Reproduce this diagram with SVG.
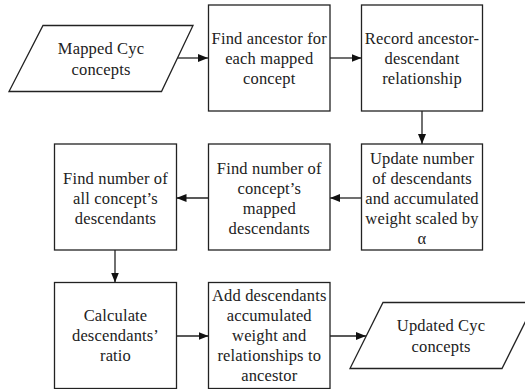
<svg xmlns="http://www.w3.org/2000/svg" width="525" height="389" viewBox="0 0 525 389">
<defs>
<style>
.n{fill:#fff;stroke:#222;stroke-width:1.3}
.t{font-family:"Liberation Serif","Times New Roman",serif;font-size:16.5px;letter-spacing:0.15px;fill:#222;text-anchor:middle}
.c{stroke:#222;stroke-width:1.3;fill:none}
</style>
<marker id="ah" markerWidth="10" markerHeight="8" refX="10" refY="4" orient="auto" markerUnits="userSpaceOnUse">
<path d="M0,0 L10,4 L0,8 Z" fill="#111"/>
</marker>
</defs>
<rect width="525" height="389" fill="#fff"/>
<g id="connectors">
<line class="c" x1="177.5" y1="58" x2="208" y2="58" marker-end="url(#ah)"/>
<line class="c" x1="330" y1="58" x2="361.5" y2="58" marker-end="url(#ah)"/>
<line class="c" x1="422" y1="111" x2="422" y2="144" marker-end="url(#ah)"/>
<line class="c" x1="361.5" y1="198" x2="330" y2="198" marker-end="url(#ah)"/>
<line class="c" x1="208.5" y1="198" x2="176.5" y2="198" marker-end="url(#ah)"/>
<line class="c" x1="115" y1="250" x2="115" y2="282.5" marker-end="url(#ah)"/>
<line class="c" x1="176.5" y1="336" x2="208.5" y2="336" marker-end="url(#ah)"/>
<line class="c" x1="330" y1="336" x2="366" y2="336" marker-end="url(#ah)"/>
</g>
<g id="n1">
<polygon class="n" points="43,25.5 193,25.5 161.5,91.5 9,91.5"/>
<text class="t" x="101" y="53.5">Mapped Cyc</text>
<text class="t" x="101" y="74.5">concepts</text>
</g>
<g id="n2">
<rect class="n" x="208.5" y="5" width="121.5" height="106"/>
<text class="t" x="269.25" y="43.5">Find ancestor for</text>
<text class="t" x="269.25" y="63.5">each mapped</text>
<text class="t" x="269.25" y="83.5">concept</text>
</g>
<g id="n3">
<rect class="n" x="361.5" y="5" width="121" height="106"/>
<text class="t" x="422" y="43.5">Record ancestor-</text>
<text class="t" x="422" y="63.5">descendant</text>
<text class="t" x="422" y="83.5">relationship</text>
</g>
<g id="n4">
<rect class="n" x="361.5" y="144" width="121" height="106"/>
<text class="t" x="422" y="163.5">Update number</text>
<text class="t" x="422" y="183.5">of descendants</text>
<text class="t" x="422" y="203.5">and accumulated</text>
<text class="t" x="422" y="223.5">weight scaled by</text>
<text class="t" x="422" y="243.5">α</text>
</g>
<g id="n5">
<rect class="n" x="208.5" y="144" width="121.5" height="106"/>
<text class="t" x="269.25" y="173.5">Find number of</text>
<text class="t" x="269.25" y="193.5">concept’s</text>
<text class="t" x="269.25" y="213.5">mapped</text>
<text class="t" x="269.25" y="233.5">descendants</text>
</g>
<g id="n6">
<rect class="n" x="54.5" y="144" width="122" height="106"/>
<text class="t" x="115.5" y="183.5">Find number of</text>
<text class="t" x="115.5" y="203.5">all concept’s</text>
<text class="t" x="115.5" y="223.5">descendants</text>
</g>
<g id="n7">
<rect class="n" x="54.5" y="282.5" width="122" height="106"/>
<text class="t" x="115.5" y="321">Calculate</text>
<text class="t" x="115.5" y="341">descendants’</text>
<text class="t" x="115.5" y="361">ratio</text>
</g>
<g id="n8">
<rect class="n" x="208.5" y="282.5" width="121.5" height="106"/>
<text class="t" x="269.25" y="301">Add descendants</text>
<text class="t" x="269.25" y="321">accumulated</text>
<text class="t" x="269.25" y="341">weight and</text>
<text class="t" x="269.25" y="361">relationships to</text>
<text class="t" x="269.25" y="381">ancestor</text>
</g>
<g id="n9">
<polygon class="n" points="383,302.5 535,302.5 502,368.5 350,368.5"/>
<text class="t" x="441" y="331">Updated Cyc</text>
<text class="t" x="441" y="352">concepts</text>
</g>
</svg>
